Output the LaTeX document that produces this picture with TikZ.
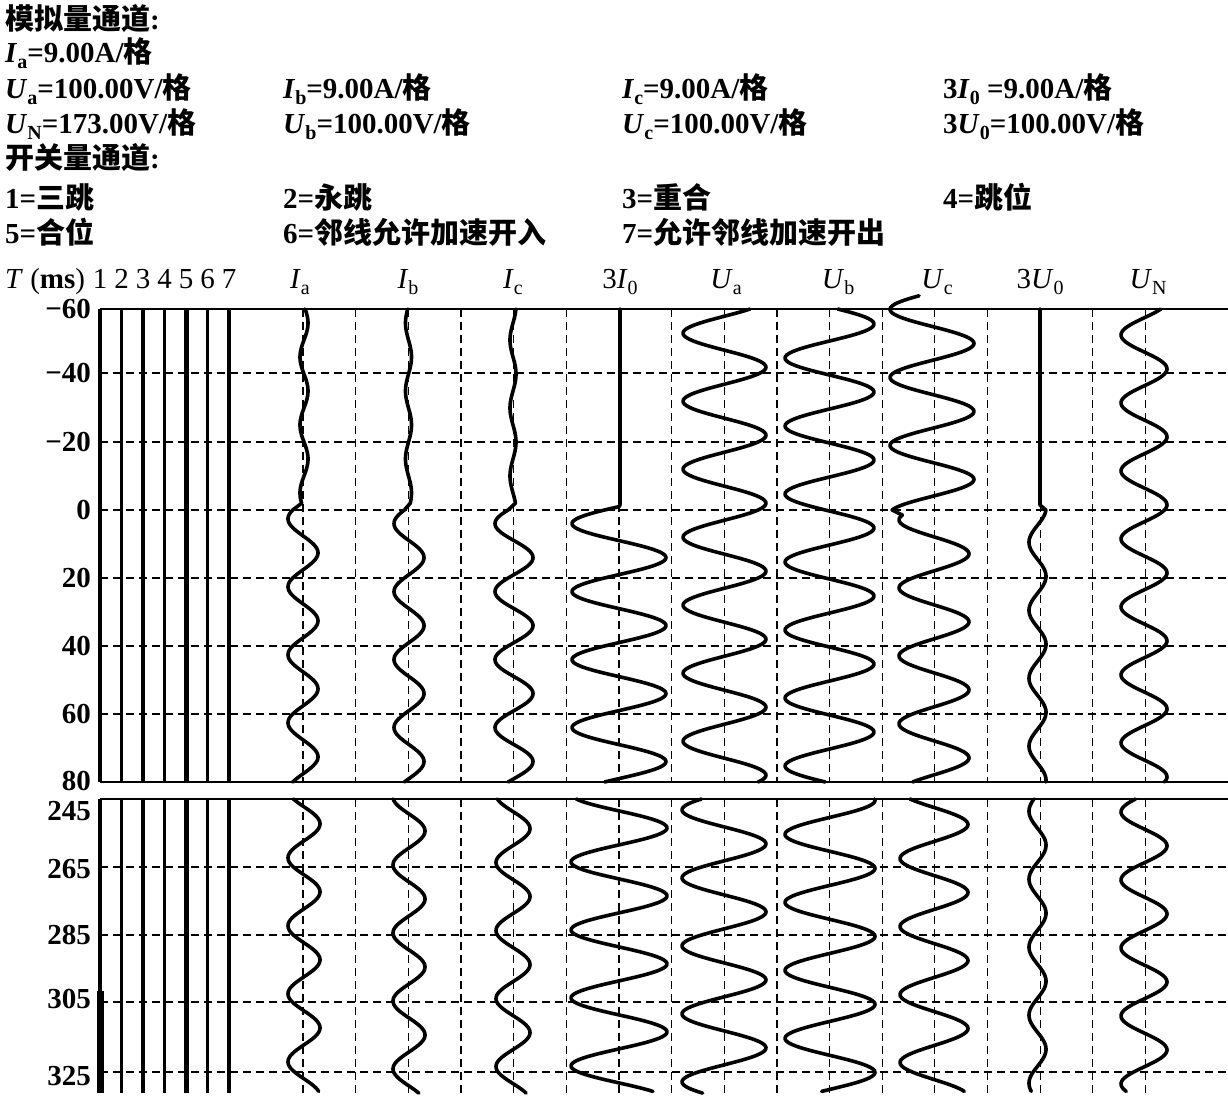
\documentclass[tikz,border=0pt]{standalone}
\usepackage{fontspec}
\setmainfont{Liberation Serif}
\newfontfamily\cjk{Noto Sans CJK SC}
\newcommand{\fs}{\fontsize{29}{34}\selectfont}
\newcommand{\zh}[1]{{\cjk\bfseries #1}}
\newcommand{\lowtxt}[1]{\raisebox{-0.22em}{\fontsize{20}{20}\selectfont #1}}
\newcommand{\vI}{\textit{I}}
\newcommand{\vU}{\textit{U}}
\pgfmathdeclarefunction{sx}{4}{\pgfmathparse{#1+#2*cos(18*((#4)-(#3)))}}
\begin{document}
\begin{tikzpicture}[x=1pt,y=-1pt,
  wave/.style={line width=3.6pt, line join=round, line cap=round},
  gridln/.style={line width=1.1pt, dash pattern=on 8pt off 5pt},
  frame/.style={line width=1.4pt},
  swl/.style={line width=3.8pt},
  txt/.style={inner sep=0pt, font=\fs},
  hdr/.style={txt, anchor=base west, font=\fs\bfseries},
  tick/.style={txt, anchor=east, font=\fs\bfseries},
  lab/.style={txt, anchor=base},
]
\useasboundingbox (0,0) rectangle (1228,1103);

% ---------- header ----------
\node[hdr] (h1) at (5,29) {\zh{模拟量通道}:};
\node[hdr] (h2) at (5,62) {\vI\lowtxt{a}=9.00A/\zh{格}};
\node[hdr] (h3a) at (5,98) {\vU\lowtxt{a}=100.00V/\zh{格}};
\node[hdr] (h3b) at (283,98) {\vI\lowtxt{b}=9.00A/\zh{格}};
\node[hdr] (h3c) at (622,98) {\vI\lowtxt{c}=9.00A/\zh{格}};
\node[hdr] (h3d) at (943,98) {3\vI\lowtxt{0} =9.00A/\zh{格}};
\node[hdr] (h4a) at (5,133) {\vU\lowtxt{N}=173.00V/\zh{格}};
\node[hdr] (h4b) at (283,133) {\vU\lowtxt{b}=100.00V/\zh{格}};
\node[hdr] (h4c) at (622,133) {\vU\lowtxt{c}=100.00V/\zh{格}};
\node[hdr] (h4d) at (943,133) {3\vU\lowtxt{0}=100.00V/\zh{格}};
\node[hdr] (h5) at (5,168) {\zh{开关量通道}:};
\node[hdr] (h6a) at (5,208) {1=\zh{三跳}};
\node[hdr] (h6b) at (283,208) {2=\zh{永跳}};
\node[hdr] (h6c) at (622,208) {3=\zh{重合}};
\node[hdr] (h6d) at (943,208) {4=\zh{跳位}};
\node[hdr] (h7a) at (5,243) {5=\zh{合位}};
\node[hdr] (h7b) at (283,243) {6=\zh{邻线允许加速开入}};
\node[hdr] (h7c) at (622,243) {7=\zh{允许邻线加速开出}};

% ---------- column labels ----------
\node[txt, anchor=base west] (tms) at (5,288) {\textit{T} ({\bfseries ms})};
\foreach \k in {1,...,7} \node[lab] (n\k) at ({100+21.5*(\k-1)},288) {\k};
\node[lab] (lIa) at (300,288) {\vI\lowtxt{a}};
\node[lab] (lIb) at (408,288) {\vI\lowtxt{b}};
\node[lab] (lIc) at (513,288) {\vI\lowtxt{c}};
\node[lab] (l3I) at (620,288) {3\vI\lowtxt{0}};
\node[lab] (lUa) at (726,288) {\vU\lowtxt{a}};
\node[lab] (lUb) at (838,288) {\vU\lowtxt{b}};
\node[lab] (lUc) at (937,288) {\vU\lowtxt{c}};
\node[lab] (l3U) at (1040,288) {3\vU\lowtxt{0}};
\node[lab] (lUN) at (1148,288) {\vU\lowtxt{N}};

% ---------- tick labels ----------
\node[tick] (t1) at (91,309) {−60};
\node[tick] (t2) at (91,373) {−40};
\node[tick] (t3) at (91,442) {−20};
\node[tick] (t4) at (91,510) {0};
\node[tick] (t5) at (91,578) {20};
\node[tick] (t6) at (91,646) {40};
\node[tick] (t7) at (91,714) {60};
\node[tick] (t8) at (91,781) {80};
\node[tick] (t9) at (91,811) {245};
\node[tick] (t10) at (91,869) {265};
\node[tick] (t11) at (91,935) {285};
\node[tick] (t12) at (91,999) {305};
\node[tick] (t13) at (91,1076) {325};

% ---------- grid ----------
\foreach \k in {0,...,16} {
  \draw[gridln] ({303+52.66*\k},309) -- ({303+52.66*\k},782);
  \draw[gridln] ({303+52.66*\k},799) -- ({303+52.66*\k},1093);
}
\foreach \yy in {373,442,510,578,646,714,867,935,1002,1072}
  \draw[gridln] (100,\yy) -- (1228,\yy);
\draw[frame] (100,309) -- (1228,309);
\draw[frame] (100,782) -- (1228,782);
\draw[frame] (100,799) -- (1228,799);

% ---------- switch channels ----------
\foreach \k in {0,1,2,3,5,6} {
  \draw[swl] ({100+21.5*\k},309) -- ({100+21.5*\k},782);
  \draw[swl] ({100+21.5*\k},799) -- ({100+21.5*\k},1093);
}
\draw[swl, line width=5pt] (186,309) -- (186,782);
\draw[swl, line width=5pt] (186,799) -- (186,1093);
\draw[line width=7pt] (100.6,991) -- (100.6,1093);

% ---------- top panel waves (y = 510 + 3.4 t) ----------
\draw[wave] plot[variable=\t,domain=-59.1:-2,samples=120] ({sx(304,4,5,\t)},{510+3.4*\t})
  --plot[variable=\t,domain=0:80,samples=200] ({sx(303,15,12.6,\t)},{510+3.4*\t});
\draw[wave] plot[variable=\t,domain=-59.1:-2,samples=120] ({sx(408.5,3,-5,\t)},{510+3.4*\t})
  --plot[variable=\t,domain=0:80,samples=200] ({sx(409,15,14,\t)},{510+3.4*\t});
\draw[wave] plot[variable=\t,domain=-59.1:-2,samples=120] ({sx(513,3,0,\t)},{510+3.4*\t})
  --plot[variable=\t,domain=0:80,samples=200] ({sx(514,19,14,\t)},{510+3.4*\t});
\draw[wave] (620,309) -- (620,505)
  --plot[variable=\t,domain=-1:80,samples=200] ({sx(619,47,14,\t)},{510+3.4*\t});
\draw[wave] plot[variable=\t,domain=-59.1:80,samples=300] ({sx(724.5,41.5,-2,\t)},{510+3.4*\t});
\draw[wave] plot[variable=\t,domain=-59.1:80,samples=300] ({sx(829.5,44.5,5.3,\t)},{510+3.4*\t});
\draw[wave] plot[variable=\t,domain=-63:0,samples=150] ({sx(932,42,-9,\t)},{510+3.4*\t})
  --plot[variable=\t,domain=1.5:80,samples=200] ({sx(934,35,12.9,\t)},{510+3.4*\t});
\draw[wave] (1040,309) -- (1040,505)
  --plot[variable=\t,domain=0:80,samples=200] ({sx(1037.5,8.5,-0.5,\t)},{510+3.4*\t});
\draw[wave] plot[variable=\t,domain=-59.1:80,samples=300] ({sx(1144,23,-1.5,\t)},{510+3.4*\t});

% ---------- bottom panel waves (y = 799 + 3.4 (t-245)) ----------
\draw[wave] plot[variable=\t,domain=0:86,samples=220] ({sx(304,16,7.3,\t)},{799+3.4*\t});
\draw[wave] plot[variable=\t,domain=0:86.5,samples=220] ({sx(409,16,9.4,\t)},{799+3.4*\t});
\draw[wave] plot[variable=\t,domain=0:86.5,samples=220] ({sx(513,17,8.7,\t)},{799+3.4*\t});
\draw[wave] plot[variable=\t,domain=0:86,samples=220] ({sx(619,48,8.5,\t)},{799+3.4*\t});
\draw[wave] plot[variable=\t,domain=0:86.5,samples=220] ({sx(724,42,13.2,\t)},{799+3.4*\t});
\draw[wave] plot[variable=\t,domain=0:86,samples=220] ({sx(830,45,0.4,\t)},{799+3.4*\t});
\draw[wave] plot[variable=\t,domain=0:86,samples=220] ({sx(934,34,7.5,\t)},{799+3.4*\t});
\draw[wave] plot[variable=\t,domain=0:86,samples=220] ({sx(1037.5,8.5,13.6,\t)},{799+3.4*\t});
\draw[wave] plot[variable=\t,domain=0:86,samples=220] ({sx(1144,23,13.8,\t)},{799+3.4*\t});
\end{tikzpicture}
\end{document}
